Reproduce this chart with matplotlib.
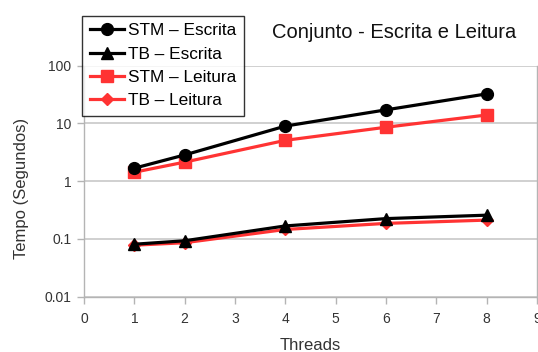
import matplotlib
matplotlib.use("Agg")
import matplotlib.pyplot as plt
from matplotlib.ticker import FixedLocator, FixedFormatter, NullLocator

threads = [1, 2, 4, 6, 8]
stm_escrita = [1.68, 2.85, 9.0, 17.2, 32.5]
tb_escrita = [0.081, 0.093, 0.168, 0.225, 0.258]
stm_leitura = [1.43, 2.14, 5.1, 8.6, 14.0]
tb_leitura = [0.078, 0.086, 0.146, 0.186, 0.212]

y_ticks = [0.01, 0.1, 1, 10, 100]
y_labels = ["0.01", "0.1", "1", "10", "100"]
x_ticks = list(range(0, 10))

plt.rcParams['font.family'] = ['Liberation Sans', 'DejaVu Sans']

fig = plt.figure(figsize=(5.38, 3.52), dpi=100)
ax = fig.add_axes([84 / 538, 1 - 296.7 / 352, (537 - 84) / 538, (296.7 - 65.7) / 352])

red = "#ff3333"
lw = 2.3
l1, = ax.plot(threads, stm_escrita, color="black", marker="o", ms=8.5, lw=lw, zorder=5, label="STM – Escrita")
l2, = ax.plot(threads, tb_escrita, color="black", marker="^", ms=8.5, lw=lw, zorder=5, label="TB – Escrita")
l3, = ax.plot(threads, stm_leitura, color=red, marker="s", ms=8, lw=lw, zorder=4, label="STM – Leitura")
l4, = ax.plot(threads, tb_leitura, color=red, marker="D", ms=6.5, lw=lw, zorder=4, label="TB – Leitura")

ax.set_yscale("log")
ax.set_ylim(0.01, 100)
ax.set_xlim(0, 9)
ax.yaxis.set_major_locator(FixedLocator(y_ticks))
ax.yaxis.set_major_formatter(FixedFormatter(y_labels))
ax.yaxis.set_minor_locator(NullLocator())
ax.set_xticks(x_ticks)
ax.set_xticklabels([str(t) for t in x_ticks])

ax.grid(axis="y", color="#c8c8c8", lw=1.2)
ax.set_axisbelow(True)
for s in ax.spines.values():
    s.set_color("#b4b4b4")
    s.set_linewidth(1.0)
ax.spines["top"].set_visible(False)
ax.tick_params(axis="both", colors="#b4b4b4", labelcolor="#333333", labelsize=10, length=5, width=1)
ax.tick_params(axis="y", pad=4)
ax.tick_params(axis="x", pad=6)

ax.set_xlabel("Threads", fontsize=12, color="#333333")
ax.set_ylabel("Tempo (Segundos)", fontsize=12, color="#333333")
ax.xaxis.set_label_coords(0.5, -(345 - 296.7) / 231)
ax.yaxis.set_label_coords(-(84 - 21) / 453, 0.47)
ax.xaxis.label.set_va("center")
ax.yaxis.label.set_va("center")

fig.text(394.5 / 538, 1 - 33 / 352, "Conjunto - Escrita e Leitura", fontsize=14.5,
         ha="center", va="center", color="#111111")

leg = fig.legend(handles=[l1, l2, l3, l4], loc="upper left",
                 bbox_to_anchor=(82 / 538, 1 - 15.5 / 352), fontsize=12.4,
                 frameon=True, fancybox=False, edgecolor="black",
                 borderpad=0.45, labelspacing=0.48, handlelength=2.0,
                 handletextpad=0.2, borderaxespad=0)
leg.get_frame().set_linewidth(1.0)
leg.set_zorder(10)

fig.savefig("out.png", dpi=100)
